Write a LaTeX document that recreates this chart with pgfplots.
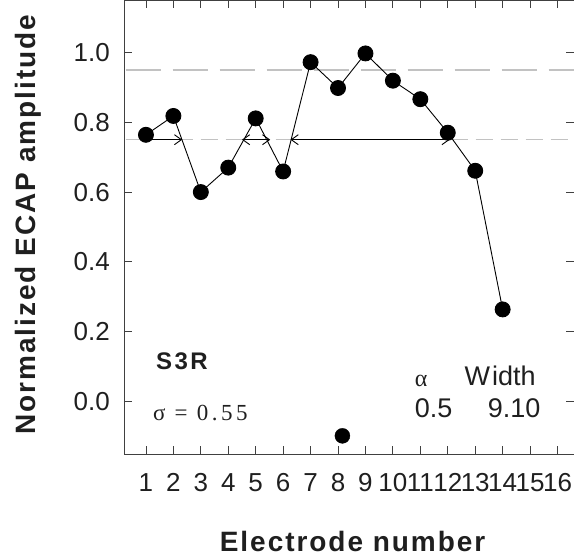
\documentclass[border=0pt]{standalone}
\usepackage{pgfplots}
\pgfplotsset{compat=1.18}
\usepackage{fontspec}
\setmainfont{Liberation Sans}
\newfontfamily\seriffont{Liberation Serif}
\usetikzlibrary{arrows.meta}
\begin{document}
\begin{tikzpicture}[x=1pt,y=1pt]
\useasboundingbox (0,0) rectangle (574,560);
\begin{axis}[
  at={(124pt,106pt)}, anchor=south west,
  scale only axis, width=450pt, height=454pt,
  xmin=0.2, xmax=16.6, ymin=-0.15, ymax=1.15,
  xtick={1,2,3,4,5,6,7,8,9,10,11,12,13,14,15,16},
  ytick={0,0.2,0.4,0.6,0.8,1.0},
  xtick pos=both, ytick pos=both,
  tick align=inside,
  major tick length=8pt,
  axis line style={color=black!75, line width=0.9pt},
  tick style={color=black!75, line width=0.9pt},
  /pgf/number format/assume math mode=true,
  ticklabel style={font=\fontsize{26}{30}\selectfont, color=black!88, inner sep=0pt},
  yticklabel style={xshift=-14pt, /pgf/number format/fixed, /pgf/number format/fixed zerofill, /pgf/number format/precision=1},
  xticklabel style={yshift=-19pt},
  xlabel={Electrode number},
  ylabel={Normalized ECAP amplitude},
  xlabel style={at={(axis description cs:0.508,-0.2137)}, anchor=base, inner sep=0pt,
    font=\fontsize{28}{32}\selectfont\bfseries\addfontfeature{LetterSpace=7}, color=black!88},
  ylabel style={at={(axis description cs:-0.196,0.505)}, anchor=base, inner sep=0pt,
    font=\fontsize{28}{32}\selectfont\bfseries\addfontfeature{LetterSpace=7}, color=black!88},
  clip=false,
]
\addplot[color=black!24, line width=1.6pt, dash pattern=on 35pt off 12pt] coordinates {(0.26,0.95) (16.6,0.95)};
\addplot[color=black!24, line width=1.6pt, dash pattern=on 17pt off 8pt] coordinates {(0.26,0.75) (16.6,0.75)};
\addplot[black, line width=0.9pt, mark=*, mark size=7.5pt] coordinates {
(1,0.764) (2,0.818) (3,0.600) (4,0.670) (5,0.811) (6,0.659) (7,0.972)
(8,0.898) (9,0.997) (10,0.919) (11,0.866) (12,0.770) (13,0.661) (14,0.264)};
\addplot[black, only marks, mark=*, mark size=7.5pt] coordinates {(8.16,-0.098)};
\addplot[black, line width=0.9pt, -{Straight Barb[length=7pt,width=10pt]}] coordinates {(1,0.75) (2.32,0.75)};
\addplot[black, line width=0.9pt, {Straight Barb[length=7pt,width=10pt]}-{Straight Barb[length=7pt,width=10pt]}] coordinates {(4.50,0.75) (5.53,0.75)};
\addplot[black, line width=0.9pt, {Straight Barb[length=7pt,width=10pt]}-{Straight Barb[length=7pt,width=10pt]}] coordinates {(6.27,0.75) (12.07,0.75)};
\node[anchor=base west, inner sep=0pt, font=\fontsize{24}{26}\selectfont\bfseries\addfontfeature{LetterSpace=10}, color=black!88] at (axis cs:1.364,0.092) {S3R};
\node[anchor=base west, inner sep=0pt, font=\seriffont\fontsize{23}{26}\selectfont\addfontfeature{LetterSpace=15}, color=black!88] at (axis cs:1.255,-0.055) {σ = 0.55};
\node[anchor=base west, inner sep=0pt, font=\seriffont\fontsize{24}{28}\selectfont, color=black!88] at (axis cs:10.79,0.044) {α};
\node[anchor=base west, inner sep=0pt, font=\fontsize{27}{30}\selectfont, color=black!88] at (axis cs:12.61,0.045) {W\kern2pt idth};
\node[anchor=base west, inner sep=0pt, font=\fontsize{27}{30}\selectfont, color=black!88] at (axis cs:10.79,-0.046) {0.5};
\node[anchor=base west, inner sep=0pt, font=\fontsize{27}{30}\selectfont, color=black!88] at (axis cs:13.45,-0.046) {9.10};
\end{axis}
\end{tikzpicture}
\end{document}
